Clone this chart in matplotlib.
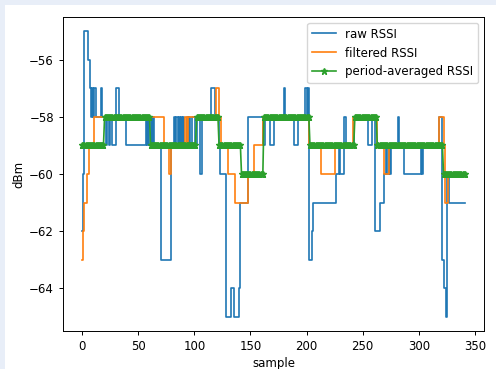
import numpy as np
import matplotlib
matplotlib.use('Agg')
import matplotlib.pyplot as plt
from matplotlib.patches import Rectangle

# ---- data (run-length: level, number of samples) ----
raw_levels = [-62, -60, -55, -56, -57, -58, -57, -58, -57, -58, -57, -58, -59, -58, -59, -58,
              -59, -57, -58, -59, -58, -59, -58, -59, -58, -59, -58, -59, -63, -59,
              -58, -59, -58, -59, -58, -59, -58, -59, -58, -59, -58, -59, -58, -59, -58, -59,
              -58, -60, -58, -57, -58, -59, -60, -65, -64, -65, -64, -61, -58, -59, -58, -59,
              -58, -57, -58, -59, -58, -57, -58, -57, -63, -62, -61, -60, -59, -60, -58, -59,
              -58, -59, -58, -62, -61, -60, -59, -60, -59, -60, -59, -58, -59, -60, -59, -60,
              -59, -58, -63, -64, -65, -60, -61]
raw_runs = [1, 1, 3, 2, 1, 1, 1, 1, 1, 5, 1, 3, 1, 2, 1, 2,
            3, 3, 6, 18, 1, 1, 1, 1, 1, 1, 1, 6, 9, 3,
            1, 1, 1, 1, 1, 1, 1, 1, 1, 2, 1, 1, 1, 2, 3, 1,
            3, 2, 8, 3, 4, 1, 5, 5, 2, 5, 1, 7, 13, 2, 4, 4,
            9, 1, 8, 3, 7, 1, 1, 1, 3, 1, 20, 3, 1, 3, 2, 7,
            13, 3, 3, 4, 4, 2, 1, 1, 1, 1, 6, 1, 5, 15, 1, 1,
            14, 3, 1, 2, 1, 2, 15]

filt_levels = [-63, -62, -61, -60, -59, -58, -59, -60, -59, -58, -59, -58, -57, -58,
               -59, -60, -61, -60, -59, -58, -59, -60, -59, -58, -59, -60, -59, -58,
               -59, -61, -60]
filt_runs = [1, 1, 2, 2, 5, 62, 4, 2, 13, 1, 1, 25, 3, 2,
             6, 6, 12, 5, 8, 41, 11, 12, 16, 22, 6, 4, 45, 4,
             1, 3, 16]

avg_levels = [-59, -58, -59, -58, -59, -60, -58, -59, -58, -59, -60]
avg_runs = [20, 41, 41, 20, 20, 20, 41, 40, 20, 59, 20]

raw = np.repeat(raw_levels, raw_runs)
filtered = np.repeat(filt_levels, filt_runs)
averaged = np.repeat(avg_levels, avg_runs)
sample = np.arange(len(raw))

# ---- figure ----
W, H = 496, 369
fig = plt.figure(figsize=(W / 100, H / 100), dpi=100, facecolor='#e8eef8')
fig.patches.append(Rectangle((5 / W, 0), 1 - 5 / W, 1 - 5 / H, transform=fig.transFigure,
                             facecolor='white', edgecolor='none', zorder=-1))
ax = fig.add_axes([63 / W, (H - 331) / H, 421 / W, 314 / H])

fs = 8.5
lw = 1.2
ax.step(sample, raw, where='post', color='#1f77b4', lw=lw, label='raw RSSI')
ax.step(sample, filtered, where='post', color='#ff7f0e', lw=lw, label='filtered RSSI')
ax.plot(sample, averaged, '-*', color='#2ca02c', lw=lw, markersize=4.5, label='period-averaged RSSI')

ax.set_xlabel('sample', fontsize=fs, labelpad=3)
ax.set_ylabel('dBm', fontsize=fs, labelpad=3)
ax.tick_params(labelsize=fs, length=3, width=0.7)
for s in ax.spines.values():
    s.set_linewidth(0.7)
ax.legend(loc='upper right', fontsize=fs)

fig.savefig('out.png', dpi=100, facecolor=fig.get_facecolor())
